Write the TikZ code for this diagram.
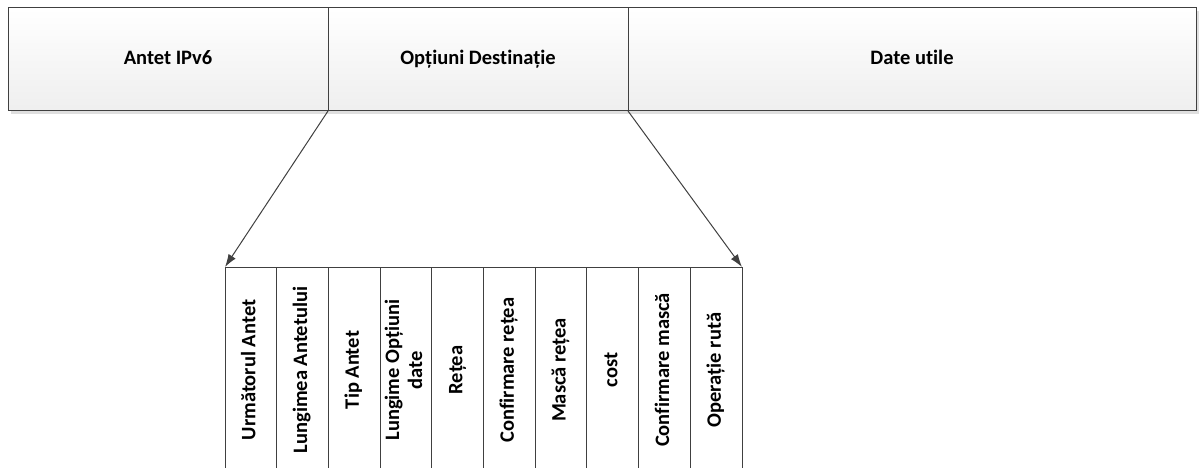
\documentclass[tikz,border=0pt]{standalone}
\usepackage{fontspec}
\setmainfont{Carlito}[RawFeature={-liga}]
\usepackage{graphicx}
\usetikzlibrary{arrows.meta,positioning}
\definecolor{edge}{HTML}{404040}
\newcommand{\vlabel}[1]{\rotatebox{90}{\begin{tabular}{@{}c@{}}#1\end{tabular}}}

\begin{document}
\begin{tikzpicture}[
  x=1pt,y=-1pt,
  node distance=0pt,
  every node/.style={font=\fontsize{20.5}{23}\selectfont\bfseries},
  hdr/.style={draw=edge,line width=1pt,top color=white,bottom color=gray!13,minimum height=103pt,
    text height=14pt,text depth=4pt,inner sep=0pt,outer sep=0pt},
  fld/.style={draw=edge,line width=1pt,fill=white,minimum width=51.7pt,minimum height=206pt,
    inner sep=0pt,outer sep=0pt},
  arr/.style={-{Latex[length=4.5mm,width=3mm]},draw=edge,line width=1pt}
]
\useasboundingbox (0,0) rectangle (1204,468);
% shadow under the packet bar
\fill[gray!25] (11,11) rectangle (1199,114);
\node[hdr,minimum width=320pt,anchor=north west] (ip) at (8,8) {Antet IPv6};
\node[hdr,minimum width=300pt,right=of ip] (opt) {Opțiuni Destinație};
\node[hdr,minimum width=568pt,right=of opt] (data) {Date utile};
\node[fld,anchor=north west] (f1) at (225,267) {\vlabel{Următorul Antet}};
\node[fld,right=of f1] (f2) {\vlabel{Lungimea Antetului}};
\node[fld,right=of f2] (f3) {\vlabel{Tip Antet}};
\node[fld,right=of f3] (f4) {\vlabel{Lungime Opțiuni\\date}};
\node[fld,right=of f4] (f5) {\vlabel{Rețea}};
\node[fld,right=of f5] (f6) {\vlabel{Confirmare rețea}};
\node[fld,right=of f6] (f7) {\vlabel{Mască rețea}};
\node[fld,right=of f7] (f8) {\vlabel{cost}};
\node[fld,right=of f8] (f9) {\vlabel{Confirmare mască}};
\node[fld,right=of f9] (f10) {\vlabel{Operație rută}};
\draw[arr] (opt.south west) -- (f1.north west);
\draw[arr] (opt.south east) -- (f10.north east);
\end{tikzpicture}
\end{document}
